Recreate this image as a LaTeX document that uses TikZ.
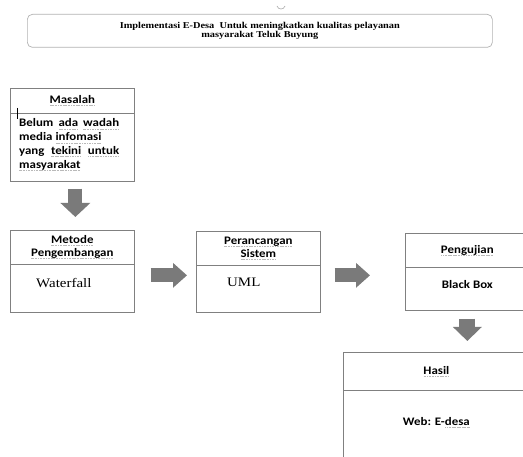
\documentclass[tikz,border=0pt]{standalone}
\usepackage{fontspec}
\setmainfont{Liberation Serif}[FakeStretch=1.15]
\newfontfamily\kalibri{Carlito}[FakeStretch=1.12]
\usetikzlibrary{arrows.meta}
\definecolor{garis}{RGB}{128,128,128}
\definecolor{panahabu}{RGB}{122,122,122}
% garis bawah ejaan (abu-abu putus-putus)
\newlength\spelw
\newcommand\spel[1]{\settowidth\spelw{#1}\rlap{\textcolor{gray!55}{\hbox to\spelw{\xleaders\hbox to1.6pt{\hss\rule[-2.6pt]{1.1pt}{0.7pt}\hss}\hfill}}}#1}
\tikzset{
  kotak/.style={draw=garis, line width=0.7pt, rectangle, inner sep=0pt, minimum width=124pt, anchor=north west},
  judul/.style={kotak, font=\kalibri\bfseries\fontsize{11.5}{13}\selectfont, align=center},
  isi/.style={font=\kalibri\bfseries\fontsize{11.5}{13.7}\selectfont, inner sep=0pt},
  isiserif/.style={font=\fontsize{13}{15}\selectfont, inner sep=0pt},
  panah/.style={line width=14pt, draw=panahabu, -{Triangle[width=#1,length=14pt]}},
  panah/.default=24pt
}
\begin{document}
\begin{tikzpicture}[x=1pt,y=-1pt]
\clip (0,0) rectangle (523,457);
\draw[gray!60, line width=0.7pt] (277,6) .. controls (278,10) and (284,10) .. (285,6);
\node[draw=gray!60, line width=0.7pt, rounded corners=5pt, minimum width=465pt, minimum height=33pt,
      inner sep=0pt, anchor=north west, align=center, font=\bfseries\fontsize{9}{9.5}\selectfont]
      (tajuk) at (27,14) {Implementasi E-Desa\ \ Untuk meningkatkan kualitas pelayanan\\ masyarakat Teluk Buyung};
% masalah
\node[kotak, minimum height=93pt] (masalah) at (10,88) {};
\node[judul, minimum height=25pt] (masalahJudul) at (masalah.north west) {\spel{Masalah}};
\node[isi, anchor=north west, align=left] (masalahIsi) at ([xshift=9pt,yshift=-5pt]masalahJudul.south west)
  {\makebox[100pt][s]{Belum \spel{ada} \spel{wadah}}\\ media \spel{infomasi}\\
   \makebox[100pt][s]{yang \spel{tekini} \spel{untuk}}\\ \spel{masyarakat}};
\draw[line width=0.6pt] (17,108) -- (17,119);
% metode
\node[kotak, minimum height=82pt] (metode) at (10,230) {};
\node[judul, minimum height=34pt] (metodeJudul) at (metode.north west) {\spel{Metode}\\ \spel{Pengembangan}};
\node[isiserif, anchor=west] (metodeIsi) at ([xshift=26pt,yshift=-18pt]metodeJudul.south west) {Waterfall};
% perancangan
\node[kotak, minimum height=81pt] (perancangan) at (196,231) {};
\node[judul, minimum height=34pt] (perancanganJudul) at (perancangan.north west) {\spel{Perancangan}\\ \spel{Sistem}};
\node[isiserif, anchor=west] (perancanganIsi) at ([xshift=31pt,yshift=-17pt]perancanganJudul.south west) {UML};
% pengujian
\node[kotak, minimum height=77pt] (pengujian) at (405,233) {};
\node[judul, minimum height=34pt] (pengujianJudul) at (pengujian.north west) {\spel{Pengujian}};
\node[isi] (pengujianIsi) at ([yshift=-17pt]pengujianJudul.south) {Black Box};
% hasil
\node[kotak, minimum width=186pt, minimum height=120pt] (hasil) at (343,352) {};
\node[judul, minimum width=186pt, minimum height=38pt] (hasilJudul) at (hasil.north west) {\spel{Hasil}};
\node[isi] (hasilIsi) at ([yshift=-32pt]hasilJudul.south) {Web: E-\spel{desa}};
% panah
\draw[panah=29pt, shorten <=7pt, shorten >=13pt] ([xshift=3pt]masalah.south) -- ([xshift=3pt]metode.north);
\draw[panah, shorten <=16pt, shorten >=9pt] ([yshift=-4pt]metode.east) -- ([yshift=-3.5pt]perancangan.west);
\draw[panah, shorten <=14pt, shorten >=35pt] ([yshift=-3.5pt]perancangan.east) -- ([yshift=-3.5pt]pengujian.west);
\draw[panah=28pt, line width=16pt, shorten <=8pt, shorten >=11pt] (pengujian.south) -- (pengujian.south |- hasil.north);
\end{tikzpicture}
\end{document}
